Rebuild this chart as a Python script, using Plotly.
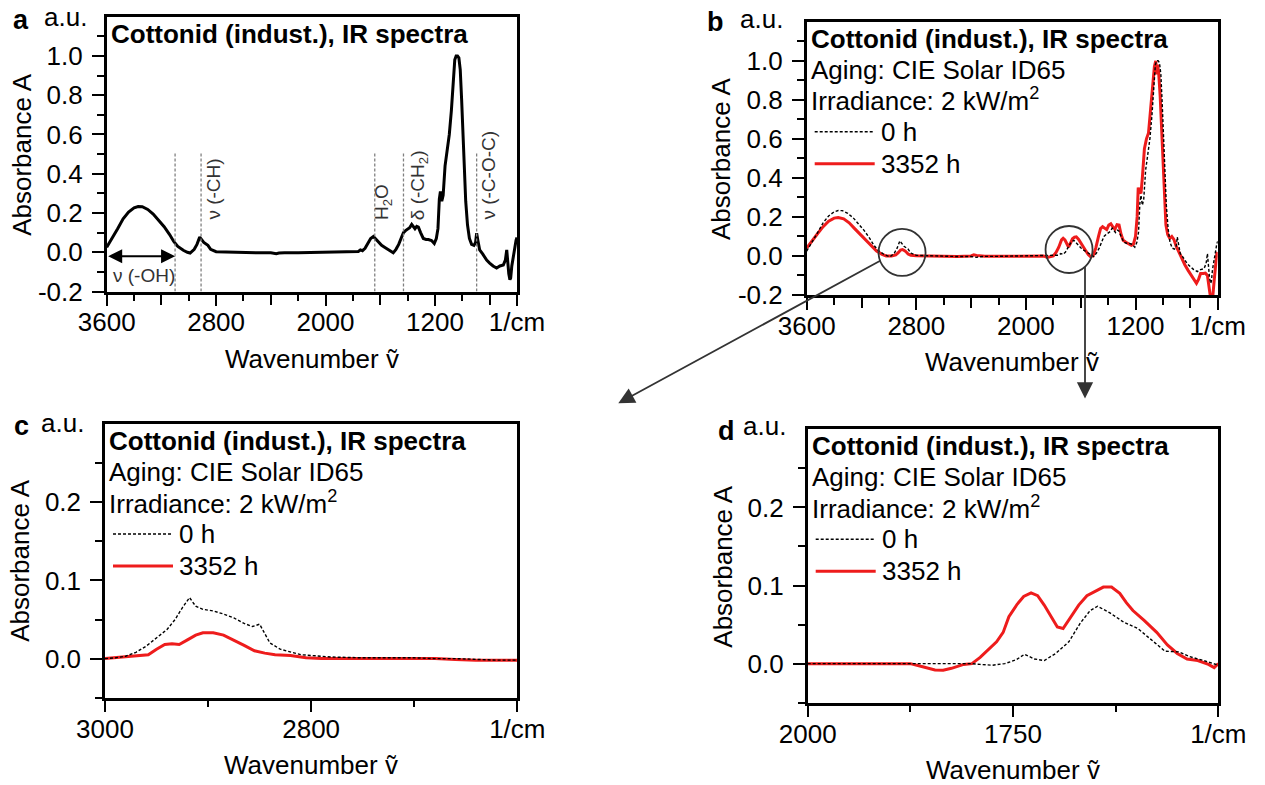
import plotly.graph_objects as go

# ---------------- data ----------------
# Full IR spectrum, 0 h (panel a, and dashed curve of panel b)
wn_full_0h = [3600, 3560, 3520, 3480, 3440, 3400, 3370, 3340, 3300, 3260, 3220, 3180, 3140,
              3110, 3080, 3040, 3010, 2990, 2960, 2940, 2920, 2905, 2890, 2860, 2840, 2800,
              2700, 2600, 2500, 2400, 2360, 2340, 2300, 2200, 2100, 2000, 1900, 1800, 1760,
              1745, 1730, 1711, 1690, 1670, 1650, 1635, 1615, 1590, 1560, 1530, 1505, 1485,
              1465, 1445, 1430, 1415, 1400, 1385, 1370, 1358, 1346, 1333, 1321, 1305, 1285,
              1265, 1248, 1225, 1205, 1190, 1178, 1168, 1160, 1150, 1140, 1126, 1110, 1095,
              1080, 1065, 1055, 1045, 1035, 1025, 1015, 1005, 995, 985, 975, 962, 948, 932,
              915, 903, 895, 886, 873, 850, 822, 800, 775, 749, 725, 700, 685, 675, 668, 660,
              652, 646, 638, 627, 615, 607, 600]
abs_full_0h = [0.025, 0.07, 0.12, 0.17, 0.205, 0.226, 0.233, 0.232, 0.218, 0.195, 0.165, 0.13, 0.09,
               0.055, 0.03, 0.01, 0.0, -0.004, 0.015, 0.04, 0.077, 0.066, 0.05, 0.035, 0.015, 0.003,
               0.0, -0.002, -0.003, -0.003, -0.007, -0.004, -0.002, -0.002, -0.001, 0.0, 0.0, 0.001, 0.004,
               0.012, 0.008, 0.02, 0.045, 0.07, 0.08, 0.068, 0.05, 0.035, 0.022, 0.008, -0.003, 0.015,
               0.04, 0.075, 0.1, 0.11, 0.12, 0.125, 0.142, 0.13, 0.12, 0.132, 0.128, 0.1, 0.07,
               0.065, 0.065, 0.06, 0.045, 0.07, 0.12, 0.27, 0.31, 0.26, 0.29, 0.44, 0.53, 0.6,
               0.72, 0.9, 0.98, 1.0, 1.0, 0.99, 0.93, 0.78, 0.58, 0.4, 0.26, 0.14, 0.07, 0.04,
               0.035, 0.05, 0.097, 0.06, 0.012, -0.01, -0.04, -0.055, -0.07, -0.08, -0.07, -0.065, -0.04, 0.012,
               -0.06, -0.11, -0.14, -0.13, -0.07, -0.02, 0.03, 0.06, 0.075]

# Full IR spectrum, 3352 h (panel b, red)
wn_full_3352h = [3600, 3560, 3520, 3480, 3440, 3400, 3370, 3330, 3290, 3250, 3210, 3170, 3130,
                 3090, 3050, 3020, 2980, 2950, 2930, 2915, 2900, 2880, 2860, 2840, 2800, 2700,
                 2600, 2500, 2400, 2380, 2360, 2300, 2200, 2000, 1870, 1845, 1825, 1800, 1780,
                 1760, 1740, 1728, 1715, 1700, 1689, 1675, 1660, 1645, 1632, 1615, 1600, 1580,
                 1560, 1545, 1530, 1510, 1490, 1470, 1455, 1440, 1425, 1410, 1395, 1380, 1365,
                 1350, 1335, 1320, 1305, 1290, 1270, 1250, 1230, 1215, 1200, 1188, 1180, 1170,
                 1160, 1150, 1135, 1120, 1105, 1090, 1075, 1062, 1052, 1045, 1038, 1030, 1020,
                 1010, 1000, 990, 978, 965, 950, 935, 920, 903, 890, 875, 860, 840, 815, 790,
                 770, 755, 740, 725, 705, 690, 675, 665, 655, 645, 635, 625, 615, 607, 600]
abs_full_3352h = [0.04, 0.08, 0.115, 0.15, 0.178, 0.194, 0.197, 0.19, 0.17, 0.14, 0.11, 0.08, 0.05,
                  0.025, 0.008, 0.0, 0.0, 0.005, 0.018, 0.03, 0.033, 0.025, 0.01, 0.004, 0.001, 0.0,
                  -0.002, -0.003, 0.0, 0.006, 0.003, -0.002, -0.002, 0.0, 0.0, -0.008, -0.006, 0.0, 0.018,
                  0.045, 0.082, 0.09, 0.082, 0.058, 0.046, 0.065, 0.088, 0.096, 0.098, 0.085, 0.066, 0.045,
                  0.023, 0.008, -0.002, 0.0, 0.04, 0.1, 0.14, 0.15, 0.14, 0.135, 0.158, 0.165, 0.148,
                  0.137, 0.16, 0.158, 0.11, 0.08, 0.07, 0.062, 0.055, 0.06, 0.1, 0.2, 0.35, 0.33,
                  0.32, 0.4, 0.55, 0.6, 0.63, 0.75, 0.88, 0.97, 1.0, 0.93, 0.98, 0.93, 0.82,
                  0.65, 0.45, 0.28, 0.16, 0.11, 0.09, 0.1, 0.085, 0.05, 0.03, 0.005, -0.015, -0.045, -0.075, -0.105,
                  -0.125, -0.14, -0.12, -0.09, -0.09, -0.088, -0.1, -0.15, -0.2, -0.21, -0.2, -0.12, -0.02, 0.01, 0.02]

# Zoom on the C-H stretching region (panel c)
wn_ch_0h = [3000, 2990, 2980, 2970, 2960, 2950, 2940, 2932, 2925, 2918, 2912, 2905, 2895, 2885,
            2875, 2865, 2857, 2850, 2846, 2840, 2830, 2820, 2810, 2800, 2780, 2750, 2720, 2700,
            2680, 2660, 2640, 2620, 2600]
abs_ch_0h = [0.0, 0.001, 0.003, 0.008, 0.016, 0.027, 0.037, 0.05, 0.065, 0.078, 0.067, 0.063, 0.061, 0.057,
             0.052, 0.045, 0.041, 0.044, 0.035, 0.02, 0.012, 0.008, 0.005, 0.004, 0.002, 0.001, 0.001, 0.001,
             0.0, 0.0, -0.001, -0.002, -0.002]
wn_ch_3352h = [3000, 2985, 2970, 2958, 2950, 2942, 2935, 2928, 2920, 2912, 2905, 2895, 2885, 2875,
               2865, 2855, 2845, 2835, 2820, 2805, 2790, 2750, 2700, 2680, 2660, 2640, 2620, 2600]
abs_ch_3352h = [0.0, 0.002, 0.004, 0.005, 0.012, 0.018, 0.019, 0.018, 0.024, 0.03, 0.033, 0.033, 0.03, 0.024,
                0.017, 0.01, 0.007, 0.005, 0.004, 0.001, 0.0, 0.0, 0.0, 0.0, -0.001, -0.002, -0.002, -0.002]

# Zoom on the carbonyl / water region (panel d)
wn_co_0h = [2000, 1900, 1800, 1790, 1775, 1760, 1746, 1736, 1724, 1712, 1698, 1682, 1668, 1656,
            1647, 1632, 1615, 1598, 1585, 1565, 1548, 1535, 1518, 1500]
abs_co_0h = [0.0, 0.0, 0.0, -0.001, -0.002, 0.0, 0.005, 0.012, 0.006, 0.004, 0.013, 0.028, 0.052, 0.068,
             0.0735, 0.065, 0.053, 0.045, 0.034, 0.016, 0.015, 0.009, 0.004, -0.002]
wn_co_3352h = [2000, 1950, 1900, 1875, 1860, 1845, 1835, 1825, 1810, 1800, 1790, 1780, 1770, 1762,
               1755, 1745, 1737, 1728, 1720, 1712, 1704, 1696, 1689, 1680, 1670, 1660, 1650, 1640,
               1630, 1620, 1612, 1604, 1590, 1575, 1562, 1550, 1538, 1525, 1512, 1505, 1500]
abs_co_3352h = [0.0, 0.0, 0.0, 0.0, -0.004, -0.008, -0.0085, -0.006, -0.001, 0.0, 0.008, 0.018, 0.028, 0.04,
                0.06, 0.076, 0.086, 0.0905, 0.087, 0.075, 0.06, 0.047, 0.045, 0.06, 0.075, 0.087, 0.092, 0.098,
                0.098, 0.09, 0.078, 0.068, 0.055, 0.04, 0.024, 0.013, 0.006, 0.004, -0.001, -0.005, 0.0]

# Band assignments (panel a)
band_lines = [3100, 2910, 1640, 1430, 895]
band_labels = ["ν (-CH)", "H<sub>2</sub>O", "δ (-CH<sub>2</sub>)", "ν (-C-O-C)"]
band_label_pos = [2821, 1578, 1321, 810]

series_names = ["0 h", "3352 h"]
title_text = "Cottonid (indust.), IR spectra"
aging_text = "Aging: CIE Solar ID65"
irr_text = "Irradiance: 2 kW/m<sup>2</sup>"

# ---------------- layout helpers ----------------
W, H = 1265, 785
FONT = "Liberation Sans, Arial, Helvetica, sans-serif"
RED = "#ee1c1c"

frames = {  # left, right, top, bottom in px
    "a": (106.7, 517.0, 16.7, 291.5),
    "b": (806.7, 1217.7, 21.7, 295.0),
    "c": (105.0, 517.3, 424.0, 697.7),
    "d": (807.7, 1218.3, 429.3, 702.7),
}


def px(x):
    return x / W


def py(y):
    return 1 - y / H


def axis_style(dom, rng, tickvals, ticktext, minor_vals, standoff=0):
    return dict(domain=dom, range=rng, tickmode="array", tickvals=tickvals, ticktext=ticktext,
                showline=True, linewidth=2.5, linecolor="black", mirror=True,
                ticks="outside", ticklen=12, tickwidth=2, tickcolor="black",
                showgrid=False, zeroline=False, ticklabelstandoff=standoff, automargin=False,
                tickfont=dict(family=FONT, size=26, color="black"),
                minor=dict(tickmode="array", tickvals=minor_vals, ticks="outside",
                           ticklen=7, tickwidth=2, tickcolor="black"))


fig = go.Figure()

# panel a
fig.add_trace(go.Scatter(x=wn_full_0h, y=abs_full_0h, mode="lines", xaxis="x", yaxis="y",
                         line=dict(color="black", width=3), showlegend=False))
# panel b
fig.add_trace(go.Scatter(x=wn_full_3352h, y=abs_full_3352h, mode="lines", xaxis="x2", yaxis="y2",
                         line=dict(color=RED, width=3), showlegend=False, name=series_names[1]))
fig.add_trace(go.Scatter(x=wn_full_0h, y=abs_full_0h, mode="lines", xaxis="x2", yaxis="y2",
                         line=dict(color="black", width=1.4, dash="3px,2px"), showlegend=False,
                         name=series_names[0]))
# panel c
fig.add_trace(go.Scatter(x=wn_ch_3352h, y=abs_ch_3352h, mode="lines", xaxis="x3", yaxis="y3",
                         line=dict(color=RED, width=3), showlegend=False, name=series_names[1]))
fig.add_trace(go.Scatter(x=wn_ch_0h, y=abs_ch_0h, mode="lines", xaxis="x3", yaxis="y3",
                         line=dict(color="black", width=1.4, dash="3px,2px"), showlegend=False,
                         name=series_names[0]))
# panel d
fig.add_trace(go.Scatter(x=wn_co_3352h, y=abs_co_3352h, mode="lines", xaxis="x4", yaxis="y4",
                         line=dict(color=RED, width=3), showlegend=False, name=series_names[1]))
fig.add_trace(go.Scatter(x=wn_co_0h, y=abs_co_0h, mode="lines", xaxis="x4", yaxis="y4",
                         line=dict(color="black", width=1.4, dash="3px,2px"), showlegend=False,
                         name=series_names[0]))
# invisible helper traces so the overlay tick axes (long unlabeled ticks) are drawn
fig.add_trace(go.Scatter(x=[], y=[], xaxis="x5", yaxis="y", showlegend=False, hoverinfo="skip"))
fig.add_trace(go.Scatter(x=[], y=[], xaxis="x6", yaxis="y2", showlegend=False, hoverinfo="skip"))

# axes
full_xt = [3600, 2800, 2000, 1200, 600]
full_xl = ["3600", "2800", "2000", "1200", "1/cm"]
full_xmid = [3200, 2400, 1600, 800]
full_xminor = [3400, 3000, 2600, 2200, 1800, 1400, 1000]
full_yt = [-0.2, 0.0, 0.2, 0.4, 0.6, 0.8, 1.0]
full_yl = ["-0.2", "0.0", "0.2", "0.4", "0.6", "0.8", "1.0"]
full_yminor = [-0.1, 0.1, 0.3, 0.5, 0.7, 0.9, 1.1]

zoom_yt = [0.0, 0.1, 0.2]
zoom_yl = ["0.0", "0.1", "0.2"]
zoom_yminor = [-0.05, 0.05, 0.15, 0.25]

XSTAND = -6
layout = {}
for key, xa, ya in [("a", "xaxis", "yaxis"), ("b", "xaxis2", "yaxis2"),
                    ("c", "xaxis3", "yaxis3"), ("d", "xaxis4", "yaxis4")]:
    l, r, t, b = frames[key]
    xdom = [px(l), px(r)]
    ydom = [py(b), py(t)]
    if key in ("a", "b"):
        layout[xa] = axis_style(xdom, [3600, 600], full_xt, full_xl, full_xminor, XSTAND)
        layout[ya] = axis_style(ydom, [-0.2, 1.2], full_yt, full_yl, full_yminor, 4)
    elif key == "c":
        layout[xa] = axis_style(xdom, [3000, 2600], [3000, 2800, 2600], ["3000", "2800", "1/cm"],
                                [2900, 2700], XSTAND)
        layout[ya] = axis_style(ydom, [-0.05, 0.3], zoom_yt, zoom_yl, zoom_yminor, 4)
    else:
        layout[xa] = axis_style(xdom, [2000, 1500], [2000, 1750, 1500], ["2000", "1750", "1/cm"],
                                [1875, 1625], XSTAND)
        layout[ya] = axis_style(ydom, [-0.05, 0.3], zoom_yt, zoom_yl, zoom_yminor, 4)

for i, key in enumerate(["a", "b", "c", "d"]):
    sfx = "" if i == 0 else str(i + 1)
    layout["xaxis" + sfx]["anchor"] = "y" + sfx
    layout["yaxis" + sfx]["anchor"] = "x" + sfx

# overlay axes carrying the long unlabeled ticks every 400 1/cm
for name, over, anc in [("xaxis5", "x", "y"), ("xaxis6", "x2", "y2")]:
    layout[name] = dict(overlaying=over, anchor=anc, side="bottom", range=[3600, 600],
                        tickmode="array", tickvals=full_xmid, ticks="outside", ticklen=12,
                        tickwidth=2, tickcolor="black", showticklabels=False, showline=False,
                        showgrid=False, zeroline=False, automargin=False)

annotations = []
shapes = []


def text(t, x, y, size=26, bold=False, xanchor="left", yanchor="middle", color="black",
         angle=0, xref="paper", yref="paper"):
    if bold:
        t = "<b>" + t + "</b>"
    annotations.append(dict(text=t, x=x, y=y, xref=xref, yref=yref, xanchor=xanchor,
                            yanchor=yanchor, showarrow=False, textangle=angle,
                            font=dict(family=FONT, size=size, color=color)))


# panel letters and a.u.
for letter, (lx, ly), (ux, uy) in [("a", (21, 20), (65, 17)), ("b", (716, 22), (761, 19)),
                                    ("c", (21, 426), (63, 423)), ("d", (726, 431), (765, 426))]:
    text(letter, px(lx), py(ly), size=27, bold=True, xanchor="center")
    text("a.u.", px(ux), py(uy), size=26, xanchor="center")

# axis titles
for key in ["a", "b", "c", "d"]:
    l, r, t, b = frames[key]
    text("Absorbance A", px(l - 85), py((t + b) / 2), xanchor="center", angle=-90)
    text("Wavenumber ṽ", px((l + r) / 2), py(b + 67), xanchor="center")

# titles, conditions, legends
for key in ["a", "b", "c", "d"]:
    l, r, t, b = frames[key]
    text(title_text, px(l + 2), py(t + 17), bold=True)
    if key == "a":
        continue
    text(aging_text, px(l + 2), py(t + 48))
    text(irr_text, px(l + 2), py(t + 78))
    for j, (nm, col, wdt, dsh) in enumerate([(series_names[0], "black", 1.4, "3px,2px"),
                                             (series_names[1], RED, 3, "solid")]):
        yy = t + 110 + 32 * j
        shapes.append(dict(type="line", xref="paper", yref="paper", x0=px(l + 8), x1=px(l + 68),
                           y0=py(yy), y1=py(yy), line=dict(color=col, width=wdt, dash=dsh)))
        text(nm, px(l + 72), py(yy))

# panel a: band marker lines and labels
for bx in band_lines:
    shapes.append(dict(type="line", xref="x", yref="y", x0=bx, x1=bx, y0=-0.2, y1=0.51,
                       line=dict(color="#808080", width=1.3, dash="3px,2px")))
for lab, lx in zip(band_labels, band_label_pos):
    text(lab, lx, 0.155, size=19, xanchor="center", yanchor="bottom", color="#333333",
         angle=-90, xref="x", yref="y")
text("ν (-OH)", 3565, -0.117, size=19, xanchor="left", color="#333333", xref="x", yref="y")
annotations.append(dict(x=band_lines[0], y=-0.02, xref="x", yref="y", ax=3600, ay=-0.02,
                        axref="x", ayref="y", showarrow=True, arrowhead=2, arrowside="end+start",
                        arrowwidth=2, arrowsize=1.4, arrowcolor="black", text="",
                        standoff=0, startstandoff=0))

# panel b: circles marking the zoomed regions, arrows to panels c and d
for cx, cy in [(2904, 0.018), (1685, 0.033)]:
    shapes.append(dict(type="circle", xref="x2", yref="y2", xsizemode="pixel", ysizemode="pixel",
                       xanchor=cx, yanchor=cy, x0=-23.5, x1=23.5, y0=-23.5, y1=23.5,
                       line=dict(color="#333333", width=1.8)))
annotations.append(dict(x=px(618.3), y=py(403.3), xref="paper", yref="paper", ax=263.4, ay=-143.3,
                        showarrow=True, arrowhead=2, arrowwidth=1.8, arrowsize=1.8,
                        arrowcolor="#333333", text="", standoff=0))
annotations.append(dict(x=px(1085), y=py(398.5), xref="paper", yref="paper", ax=0, ay=-133,
                        showarrow=True, arrowhead=2, arrowwidth=1.8, arrowsize=1.8,
                        arrowcolor="#333333", text="", standoff=0))

fig.update_layout(**layout)
fig.update_layout(width=W, height=H, margin=dict(l=0, r=0, t=0, b=0, autoexpand=False),
                  paper_bgcolor="white", plot_bgcolor="white",
                  annotations=annotations, shapes=shapes, showlegend=False,
                  font=dict(family=FONT, size=26, color="black"))

fig.write_html("out.html")
